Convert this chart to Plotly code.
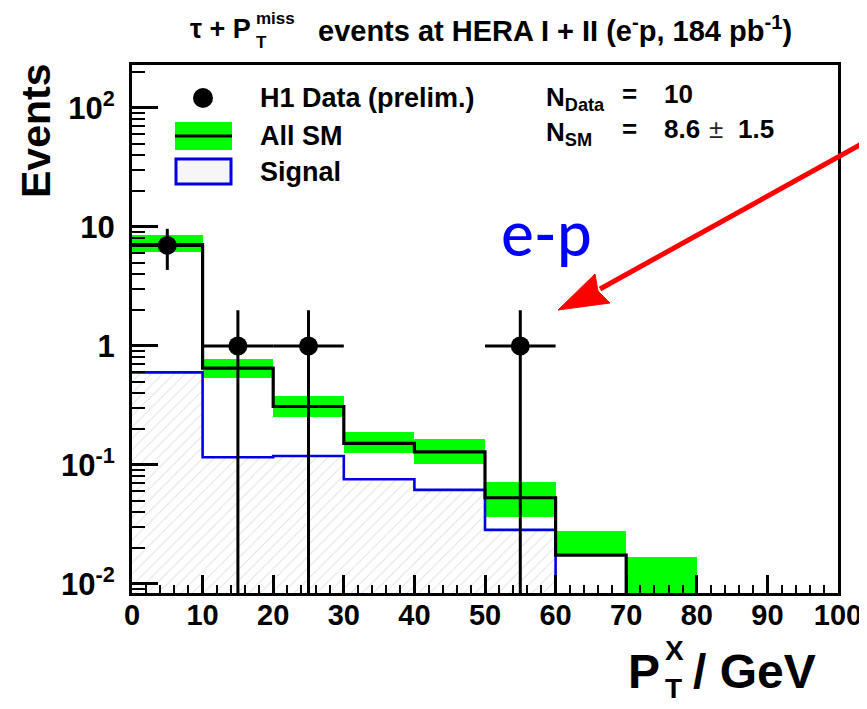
import plotly.graph_objects as go
import math

# ---------------- data ----------------
bin_edges = [0, 10, 20, 30, 40, 50, 60, 70, 80, 90, 100]
sm_values = [7.1, 0.65, 0.31, 0.152, 0.129, 0.053, 0.0175, 0, 0, 0]
band_low = [6.2, 0.535, 0.252, 0.127, 0.101, 0.0368, 0.0175, 0, 0, 0]
band_high = [8.57, 0.773, 0.38, 0.188, 0.164, 0.0724, 0.0279, 0.017, 0, 0]
signal_values = [0.60, 0.116, 0.119, 0.0758, 0.0617, 0.0285, 0, 0, 0, 0]
data_x = [5, 15, 25, 55]
data_y = [7, 1, 1, 1]
x_ticks = [0, 10, 20, 30, 40, 50, 60, 70, 80, 90, 100]
y_tickvals = [0.01, 0.1, 1, 10, 100]
y_ticktext = ["10<sup>-2</sup>", "10<sup>-1</sup>", "1", "10", "10<sup>2</sup>"]

FLOOR = 1e-4  # stands for "empty" on the log axis (below range)

# window 867x709; the page body has an 8px margin, so the figure is drawn 8px in
OFF = 8
WIN_W, WIN_H = 867, 709
W, H = WIN_W - OFF, WIN_H - OFF
# plot frame in window pixels (as measured on the reference)
L, R, T, B = 132, 838, 65, 593


def px(x):
    return (x - L) / (R - L)


def py(y):
    return (B - y) / (B - T)


SANS = "Liberation Sans"

centers = [(bin_edges[i] + bin_edges[i + 1]) / 2 for i in range(len(bin_edges) - 1)]
widths = [bin_edges[i + 1] - bin_edges[i] for i in range(len(bin_edges) - 1)]


def floor(v):
    return v if v > 0 else FLOOR


fig = go.Figure()

# signal hatched area
fig.add_trace(go.Bar(
    x=centers, y=[floor(v) for v in signal_values], width=widths,
    marker=dict(color="rgba(255,255,255,0)", line=dict(width=0),
                pattern=dict(shape="/", fgcolor="#c4c4d0", bgcolor="rgba(255,255,255,0)",
                             size=8, solidity=0.12)),
    showlegend=False, hoverinfo="skip"))

# SM uncertainty band
bx, bb, bh, bw = [], [], [], []
for c, w, lo, hi in zip(centers, widths, band_low, band_high):
    if hi > 0:
        bx.append(c)
        bb.append(floor(lo))
        bh.append(hi - floor(lo))
        bw.append(w)
fig.add_trace(go.Bar(x=bx, y=bh, base=bb, width=bw,
                     marker=dict(color="#00ff00", line=dict(width=0)),
                     showlegend=False, hoverinfo="skip"))

# signal step line
fig.add_trace(go.Scatter(
    x=bin_edges, y=[floor(v) for v in signal_values] + [floor(signal_values[-1])],
    mode="lines", line=dict(shape="hv", color="#0000e6", width=2.6),
    showlegend=False, hoverinfo="skip"))

# SM step line
fig.add_trace(go.Scatter(
    x=bin_edges, y=[floor(v) for v in sm_values] + [floor(sm_values[-1])],
    mode="lines", line=dict(shape="hv", color="black", width=3.2),
    showlegend=False, hoverinfo="skip"))

# data points
err_up = [math.sqrt(n) for n in data_y]
err_dn = [min(math.sqrt(n), n - FLOOR) for n in data_y]
fig.add_trace(go.Scatter(
    x=data_x, y=data_y, mode="markers",
    marker=dict(color="black", size=19, line=dict(width=0)),
    error_y=dict(type="data", array=err_up, arrayminus=err_dn, color="black",
                 thickness=3, width=0),
    error_x=dict(type="constant", value=5, color="black", thickness=3, width=0),
    showlegend=False, hoverinfo="skip"))

annotations = []
shapes = []


def ann(text, x, y, size, xanchor="left", bold=True, color="black", family=SANS, weight="bold", **kw):
    f = dict(family=family, size=size, color=color)
    if bold:
        f["weight"] = weight
    d = dict(text=text, x=px(x), y=py(y), xref="paper", yref="paper",
             xanchor=xanchor, yanchor="middle", showarrow=False, font=f)
    d.update(kw)
    annotations.append(d)


# ----- title (stacked sub/superscript built from pieces) -----
ann("τ + P", 253, 29, 27, xanchor="right")
ann("miss", 254, 19, 17)
ann("T", 254, 43, 17)
ann("events at HERA I + II (e<sup>-</sup>p, 184 pb<sup>-1</sup>)", 316, 29, 29)

# ----- legend (drawn by hand, ROOT style) -----
shapes.append(dict(type="circle", xref="paper", yref="paper",
                   x0=px(193), x1=px(213), y0=py(108), y1=py(88),
                   fillcolor="black", line=dict(width=0)))
shapes.append(dict(type="rect", xref="paper", yref="paper",
                   x0=px(175), x1=px(232), y0=py(150), y1=py(122),
                   fillcolor="#00ff00", line=dict(width=0)))
shapes.append(dict(type="line", xref="paper", yref="paper",
                   x0=px(175), x1=px(232), y0=py(136), y1=py(136),
                   line=dict(color="black", width=3.2)))
shapes.append(dict(type="rect", xref="paper", yref="paper",
                   x0=px(176), x1=px(231), y0=py(184), y1=py(159),
                   fillcolor="rgba(215,215,228,0.22)", line=dict(color="#0000e6", width=3)))
for txt, yy in [("H1 Data (prelim.)", 98), ("All SM", 136), ("Signal", 172)]:
    ann(txt, 258, yy, 27)

# ----- statistics box -----
ann("N<sub>Data</sub>", 544, 98, 26)
ann("=", 629, 94, 26, xanchor="center")
ann("10", 662, 94, 26)
ann("N<sub>SM</sub>", 544, 133, 26)
ann("=", 629, 129, 26, xanchor="center")
ann("8.6", 662, 129, 26)
ann("±", 716, 129, 26, xanchor="center", bold=False, color="#222222")
ann("1.5", 736, 129, 26)

# ----- axis titles -----
ann("Events", 36, 131, 41, xanchor="center", textangle=-90)
ann("P", 662, 671, 48, xanchor="right")
ann("X", 663, 650, 28)
ann("T", 663, 688, 28)
ann("/ GeV", 691, 671, 48)

# ----- e-p label and red arrow -----
ann("e-p", 546, 232, 62, xanchor="center", color="#0000ff", family="Lato", weight=500)
shapes.append(dict(type="line", xref="paper", yref="paper",
                   x0=px(885), y0=py(131), x1=px(600), y1=py(289),
                   line=dict(color="#ff0000", width=5)))
head = [(558, 310), (610, 303), (598, 291), (595, 274)]
path = "M " + " L ".join(f"{px(a):.5f},{py(b):.5f}" for a, b in head) + " Z"
shapes.append(dict(type="path", xref="paper", yref="paper", path=path,
                   fillcolor="#ff0000", line=dict(color="#ff0000", width=1)))

xtickfont = dict(family=SANS, size=29, color="black", weight="bold")
ytickfont = dict(family=SANS, size=31, color="black", weight="bold")

fig.update_layout(
    width=W, height=H,
    margin=dict(l=L - OFF, r=W - (R - OFF), t=T - OFF, b=H - (B - OFF), pad=0, autoexpand=False),
    paper_bgcolor="white", plot_bgcolor="white",
    barmode="overlay", bargap=0, showlegend=False,
    annotations=annotations, shapes=shapes,
    xaxis=dict(range=[0, 100], tickmode="array", tickvals=x_ticks, automargin=False,
               ticks="inside", ticklen=18, tickwidth=2.5, tickcolor="black",
               minor=dict(dtick=2, ticks="inside", ticklen=8, tickwidth=2, tickcolor="black"),
               showline=True, linewidth=3, linecolor="black", mirror=True,
               showgrid=False, zeroline=False, tickfont=xtickfont, ticklabelstandoff=-6),
    yaxis=dict(type="log", range=[-2.076, 2.361], tickmode="array", automargin=False,
               tickvals=y_tickvals, ticktext=y_ticktext,
               ticks="inside", ticklen=26, tickwidth=2.5, tickcolor="black",
               minor=dict(dtick="D1", ticks="inside", ticklen=13, tickwidth=2, tickcolor="black"),
               showline=True, linewidth=3, linecolor="black", mirror=True,
               showgrid=False, zeroline=False, tickfont=ytickfont, ticklabelstandoff=8),
)

fig.write_html("out.html")
